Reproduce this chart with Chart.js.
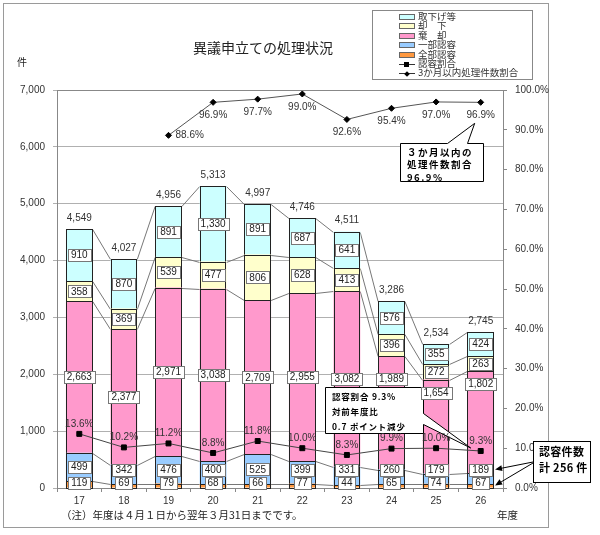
<!DOCTYPE html>
<html lang="ja">
<head>
<meta charset="utf-8">
<title>異議申立ての処理状況</title>
<script src="https://cdn.jsdelivr.net/npm/chart.js@4.4.1/dist/chart.umd.min.js"></script>
<style>
  html, body { margin: 0; padding: 0; background: #fff; }
  #wrap { position: relative; width: 600px; height: 535px; font-family: "Noto Sans CJK JP", "Noto Sans", sans-serif; color: #222; }
  #frame { position: absolute; left: 3px; top: 3px; width: 546px; height: 525px; box-sizing: border-box; border: 1px solid #9a9a9a; }
  #chart { position: absolute; left: 0; top: 0; }
  #title { position: absolute; left: 163px; top: 37px; width: 200px; text-align: center; font-size: 14px; line-height: 20px; }
  #unit { position: absolute; left: 17px; top: 55px; font-size: 10px; line-height: 14px; }
  #note { position: absolute; left: 61px; top: 508px; font-size: 10.5px; line-height: 14px; }
  #xunit { position: absolute; left: 497px; top: 508px; font-size: 10.5px; line-height: 14px; }
  #legend { position: absolute; left: 372px; top: 10px; width: 161px; height: 70px; box-sizing: border-box; border: 1px solid #888; background: #fff; padding-top: 1px; }
  .li { position: relative; height: 9.4px; line-height: 9.4px; font-size: 9.5px; padding-left: 45px; white-space: nowrap; color: #333; }
  .sw { position: absolute; left: 26px; top: 2px; width: 16px; height: 6px; box-sizing: border-box; border: 1px solid #666; }
  .ln { position: absolute; left: 26px; top: 5px; width: 16px; height: 0; border-top: 1px solid #333; }
  .mk { position: absolute; left: 5px; top: -3px; width: 5px; height: 5px; background: #000; }
  .mk.dia { transform: rotate(45deg); width: 4px; height: 4px; left: 6px; top: -2.5px; }
</style>
</head>
<body>
<div id="wrap">
  <div id="frame"></div>
  <canvas id="chart" width="600" height="535"></canvas>
  <div id="title">異議申立ての処理状況</div>
  <div id="unit">件</div>
  <div id="legend"></div>
  <div id="note">（注）年度は４月１日から翌年３月31日までです。</div>
  <div id="xunit">年度</div>
</div>
<script>
// 年度
const years = ['17', '18', '19', '20', '21', '22', '23', '24', '25', '26'];

// 件数（下から積み上げ順）
const allowedFull = [119, 69, 79, 68, 66, 77, 44, 65, 74, 67];               // 全部認容
const allowedPartial = [499, 342, 476, 400, 525, 399, 331, 260, 179, 189];   // 一部認容
const dismissed = [2663, 2377, 2971, 3038, 2709, 2955, 3082, 1989, 1654, 1802]; // 棄却
const rejected = [358, 369, 539, 477, 806, 628, 413, 396, 272, 263];         // 却下
const withdrawn = [910, 870, 891, 1330, 891, 687, 641, 576, 355, 424];       // 取下げ等
const totals = [4549, 4027, 4956, 5313, 4997, 4746, 4511, 3286, 2534, 2745];

// 割合（%）
const allowedRate = [13.6, 10.2, 11.2, 8.8, 11.8, 10.0, 8.3, 9.9, 10.0, 9.3];
const within3Months = [null, null, 88.6, 96.9, 97.7, 99.0, 92.6, 95.4, 97.0, 96.9];

const barSeries = [
    { label: '全部認容', legend: '全部認容', data: allowedFull, color: '#FF9940' },
    { label: '一部認容', legend: '一部認容', data: allowedPartial, color: '#99CCFF' },
    { label: '棄却', legend: '棄　却', data: dismissed, color: '#FF99CC' },
    { label: '却下', legend: '却　下', data: rejected, color: '#FFFFCC' },
    { label: '取下げ等', legend: '取下げ等', data: withdrawn, color: '#CCFFFF' }
];

//凡例（HTML）
const legendEl = document.getElementById('legend');
[...barSeries].reverse().forEach(s => {
    legendEl.insertAdjacentHTML('beforeend',
        `<div class="li"><span class="sw" style="background:${s.color}"></span>${s.legend}</div>`);
});
legendEl.insertAdjacentHTML('beforeend',
    `<div class="li"><span class="ln"><span class="mk"></span></span>認容割合</div>`);
legendEl.insertAdjacentHTML('beforeend',
    `<div class="li"><span class="ln"><span class="mk dia"></span></span>3か月以内処理件数割合</div>`);

const numFont = '10px "Liberation Sans", Arial, sans-serif';
const fmt = v => v.toLocaleString('en-US');

function valueBox(ctx, text, x, y) {
    ctx.font = numFont;
    const w = Math.round(ctx.measureText(text).width + 6);
    const h = 12;
    const left = Math.round(x - w / 2) + 0.5;
    const top = Math.round(y - h / 2) + 0.5;
    ctx.fillStyle = '#fff';
    ctx.fillRect(left, top, w, h);
    ctx.strokeStyle = '#777';
    ctx.lineWidth = 1;
    ctx.strokeRect(left, top, w, h);
    ctx.fillStyle = '#222';
    ctx.textAlign = 'center';
    ctx.textBaseline = 'middle';
    ctx.fillText(text, x, y + 0.5);
}

function plainText(ctx, text, x, y, align) {
    ctx.font = numFont;
    ctx.fillStyle = '#333';
    ctx.textAlign = align || 'center';
    ctx.textBaseline = 'middle';
    ctx.fillText(text, x, y);
}

function arrow(ctx, x0, y0, x1, y1) {
    const ang = Math.atan2(y1 - y0, x1 - x0);
    const L = 7, W = 3;
    const c = Math.cos(ang), s = Math.sin(ang);
    ctx.beginPath();
    ctx.moveTo(x0, y0);
    ctx.lineTo(x1 - L * c, y1 - L * s);
    ctx.stroke();
    ctx.beginPath();
    ctx.moveTo(x1, y1);
    ctx.lineTo(x1 - L * c + W * s, y1 - L * s - W * c);
    ctx.lineTo(x1 - L * c - W * s, y1 - L * s + W * c);
    ctx.closePath();
    ctx.fill();
}

function calloutLines(ctx, lines, x, y0, step, font, spacing) {
    ctx.font = font;
    ctx.fillStyle = '#000';
    ctx.textAlign = 'left';
    ctx.textBaseline = 'middle';
    ctx.letterSpacing = spacing;
    lines.forEach((t, k) => ctx.fillText(t, x, y0 + k * step));
    ctx.letterSpacing = '0px';
}

//吹き出しの位置
const box1 = { left: 400, top: 143, right: 483, bottom: 181 };
const box2 = { left: 325, top: 387, right: 423, bottom: 433 };
const box3 = { left: 533, top: 441, right: 590, bottom: 482 };

const decorations = {
    id: 'decorations',
    beforeDatasetsDraw(chart) {
        const { ctx, chartArea: a } = chart;
        ctx.save();
        ctx.strokeStyle = '#888';
        ctx.lineWidth = 1;
        ctx.beginPath();
        ctx.moveTo(a.left, a.top + 0.5);
        ctx.lineTo(a.right, a.top + 0.5);
        ctx.stroke();

        //区分線
        ctx.strokeStyle = '#777';
        barSeries.forEach((s, d) => {
            const pts = chart.getDatasetMeta(d).data;
            ctx.beginPath();
            for (let i = 0; i < pts.length - 1; i++) {
                const p = pts[i], q = pts[i + 1];
                ctx.moveTo(p.x + p.width / 2, Math.round(p.y) + 0.5);
                ctx.lineTo(q.x - q.width / 2, Math.round(q.y) + 0.5);
            }
            ctx.stroke();
        });
        ctx.restore();
    },
    afterDatasetDraw(chart, args) {
        if (args.index >= barSeries.length) return;
        //棒の枠線
        const ctx = chart.ctx;
        ctx.save();
        ctx.strokeStyle = '#222';
        ctx.lineWidth = 1;
        chart.getDatasetMeta(args.index).data.forEach(el => {
            const l = Math.round(el.x - el.width / 2) + 0.5;
            const r = Math.round(el.x + el.width / 2) - 0.5;
            const t = Math.round(el.y) + 0.5;
            const b = Math.round(el.base) + 0.5;
            ctx.strokeRect(l, t, r - l, b - t);
        });
        ctx.restore();
    },
    afterDatasetsDraw(chart) {
        const ctx = chart.ctx;
        ctx.save();
        const metas = barSeries.map((s, d) => chart.getDatasetMeta(d).data);
        const last = years.length - 1;

        ctx.strokeStyle = '#000';
        ctx.lineWidth = 1;

        //吹き出し2
        const p5 = chart.getDatasetMeta(5).data[last];
        const tip2 = { x: p5.x - 10, y: p5.y - 3 };
        ctx.beginPath();
        ctx.moveTo(box2.left + 0.5, box2.top + 0.5);
        ctx.lineTo(box2.right + 0.5, box2.top + 0.5);
        ctx.lineTo(box2.right + 0.5, 413.5);
        ctx.lineTo(tip2.x, tip2.y);
        ctx.lineTo(box2.right + 0.5, 424.5);
        ctx.lineTo(box2.right + 0.5, box2.bottom + 0.5);
        ctx.lineTo(box2.left + 0.5, box2.bottom + 0.5);
        ctx.closePath();
        ctx.fillStyle = '#fff';
        ctx.fill();
        ctx.stroke();
        const diff = (allowedRate[last - 1] - allowedRate[last]).toFixed(1);
        calloutLines(ctx, [`認容割合 ${allowedRate[last].toFixed(1)}%`, '対前年度比', `${diff} ポイント減少`],
            box2.left + 7, box2.top + 10, 15, 'bold 8.5px "Noto Sans CJK JP", sans-serif', '0.8px');

        years.forEach((yr, i) => {
            const full = metas[0][i], part = metas[1][i];
            const yFull = full.base - 5;
            const yPart = Math.min((part.y + part.base) / 2, yFull - 13);
            for (let d = 2; d < barSeries.length; d++) {
                const el = metas[d][i];
                let y = (el.y + el.base) / 2;
                if (d === 2 && i >= 7) y = Math.max(el.y + 13, box2.top - 8);
                valueBox(ctx, fmt(barSeries[d].data[i]), el.x, y);
            }
            valueBox(ctx, fmt(allowedPartial[i]), part.x, yPart);
            valueBox(ctx, fmt(allowedFull[i]), full.x, yFull);
            plainText(ctx, fmt(totals[i]), metas[4][i].x, metas[4][i].y - 11);
        });

        //認容割合ラベル
        chart.getDatasetMeta(5).data.forEach((p, i) => {
            plainText(ctx, allowedRate[i].toFixed(1) + '%', p.x, p.y - 10);
        });

        //3か月以内処理件数割合ラベル
        const firstIdx = within3Months.findIndex(v => v !== null);
        chart.getDatasetMeta(6).data.forEach((p, i) => {
            if (within3Months[i] === null) return;
            const t = within3Months[i].toFixed(1) + '%';
            if (i === firstIdx) plainText(ctx, t, p.x + 7, p.y, 'left');
            else plainText(ctx, t, p.x, p.y + 13);
        });

        ctx.strokeStyle = '#000';
        ctx.lineWidth = 1;

        //吹き出し1
        const p6 = chart.getDatasetMeta(6).data[last];
        const tip1 = { x: p6.x - 6, y: p6.y + 21 };
        ctx.beginPath();
        ctx.moveTo(box1.left + 0.5, box1.top + 0.5);
        ctx.lineTo(447.5, box1.top + 0.5);
        ctx.lineTo(tip1.x, tip1.y);
        ctx.lineTo(467.5, box1.top + 0.5);
        ctx.lineTo(box1.right + 0.5, box1.top + 0.5);
        ctx.lineTo(box1.right + 0.5, box1.bottom + 0.5);
        ctx.lineTo(box1.left + 0.5, box1.bottom + 0.5);
        ctx.closePath();
        ctx.fillStyle = '#fff';
        ctx.fill();
        ctx.stroke();
        calloutLines(ctx, ['３か月以内の', '処理件数割合', within3Months[last].toFixed(1) + '%'],
            box1.left + 7, box1.top + 9, 12.5, 'bold 9.5px "Noto Sans CJK JP", sans-serif', '1.5px');

        //吹き出し3（矢印）
        const bar = metas[1][last];
        const rightEdge = bar.x + bar.width / 2 + 1;
        const yPartLast = Math.min((bar.y + bar.base) / 2, metas[0][last].base - 18);
        ctx.fillStyle = '#000';
        arrow(ctx, box3.left, 462, rightEdge, yPartLast);
        arrow(ctx, box3.left, 463, rightEdge, metas[0][last].base - 2);

        ctx.fillStyle = '#fff';
        ctx.fillRect(box3.left + 0.5, box3.top + 0.5, box3.right - box3.left, box3.bottom - box3.top);
        ctx.strokeRect(box3.left + 0.5, box3.top + 0.5, box3.right - box3.left, box3.bottom - box3.top);
        calloutLines(ctx, ['認容件数', `計 ${allowedFull[last] + allowedPartial[last]} 件`],
            box3.left + 6, box3.top + 11, 16, 'bold 11px "Noto Sans CJK JP", sans-serif', '0.3px');
        ctx.restore();
    }
};

Chart.defaults.font.family = '"Liberation Sans", Arial, sans-serif';
Chart.defaults.font.size = 10;
Chart.defaults.color = '#333';

new Chart(document.getElementById('chart'), {
    type: 'bar',
    data: {
        labels: years,
        datasets: barSeries.map(s => ({
            type: 'bar',
            label: s.label,
            data: s.data,
            backgroundColor: s.color,
            borderWidth: 0,
            yAxisID: 'y',
            stack: 'count',
            order: 2,
            barPercentage: 0.6,
            categoryPercentage: 1
        })).concat([
            {
                type: 'line',
                label: '認容割合',
                data: allowedRate,
                yAxisID: 'y1',
                borderColor: '#444',
                borderWidth: 1,
                pointStyle: 'rect',
                pointRadius: 3.5,
                pointBackgroundColor: '#000',
                pointBorderColor: '#000',
                order: 0
            },
            {
                type: 'line',
                label: '3か月以内処理件数割合',
                data: within3Months,
                yAxisID: 'y1',
                borderColor: '#555',
                borderWidth: 1,
                pointStyle: 'rectRot',
                pointRadius: 3,
                pointBackgroundColor: '#000',
                pointBorderColor: '#000',
                order: 0
            }
        ])
    },
    options: {
        responsive: false,
        animation: false,
        events: [],
        layout: { padding: { top: 90, left: 0, right: 0, bottom: 0 } },
        plugins: {
            legend: { display: false },
            tooltip: { enabled: false }
        },
        scales: {
            x: {
                stacked: true,
                offset: true,
                grid: { drawOnChartArea: false, offset: true, tickLength: 4, color: '#888' },
                border: { color: '#888' },
                ticks: { padding: 3 },
                afterFit: s => { s.height = 47; }
            },
            y: {
                stacked: true,
                position: 'left',
                min: 0,
                max: 7000,
                ticks: { stepSize: 1000, padding: 8, callback: v => fmt(v) },
                grid: { color: '#b0b0b0', tickLength: 4 },
                border: { color: '#888' },
                afterFit: s => { s.width = 57; }
            },
            y1: {
                position: 'right',
                min: 0,
                max: 100,
                ticks: { stepSize: 10, padding: 8, callback: v => v.toFixed(1) + '%' },
                grid: { drawOnChartArea: false, tickLength: 4, color: '#888' },
                border: { color: '#888' },
                afterFit: s => { s.width = 97; }
            }
        }
    },
    plugins: [decorations]
});
</script>
</body>
</html>
